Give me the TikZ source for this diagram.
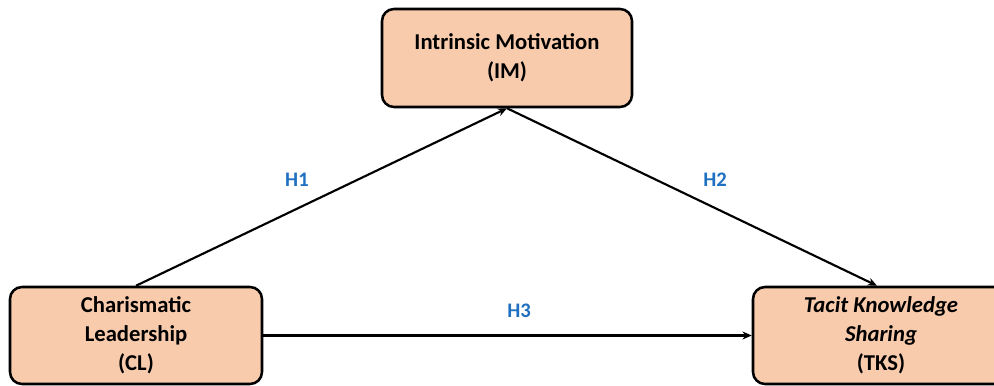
\documentclass[tikz,border=0pt]{standalone}
\usepackage{fontspec}
\setmainfont{Carlito}
\usetikzlibrary{arrows.meta}
\definecolor{peach}{HTML}{F8CBAD}
\definecolor{hblue}{HTML}{1F70C1}
\begin{document}
\begin{tikzpicture}[x=0.75pt,y=-0.75pt,
  box/.style={draw=black,fill=peach,line width=1.9pt,rounded corners=9pt,
    align=center,font=\fontsize{17pt}{21.75pt}\selectfont\bfseries,inner sep=0pt},
  conn/.style={line width=1.6pt,-{Stealth[length=7pt,width=6pt]}},
  hyp/.style={text=hblue,font=\fontsize{15.5pt}{18pt}\selectfont\bfseries}]
\useasboundingbox (0,0) rectangle (994,385);
\node[box,minimum width=187.5pt,minimum height=73.5pt] (IM) at (507,58) {Intrinsic Motivation\\(IM)};
\node[box,minimum width=189pt,minimum height=72.75pt] (CL) at (136,335.5) {Charismatic\\Leadership\\(CL)};
\node[box,minimum width=192pt,minimum height=72.75pt] (TKS) at (881,335.5) {\itshape Tacit Knowledge\\\itshape Sharing\\(TKS)};
\draw[conn] (CL.north) -- (IM.south);
\draw[conn] (IM.south) -- ([xshift=-3pt]TKS.north);
\draw[conn] (CL.east) -- (TKS.west);
\node[hyp] (h1) at (297,180) {H1};
\node[hyp] (h2) at (715,180) {H2};
\node[hyp] (h3) at (519,311) {H3};
\end{tikzpicture}
\end{document}
